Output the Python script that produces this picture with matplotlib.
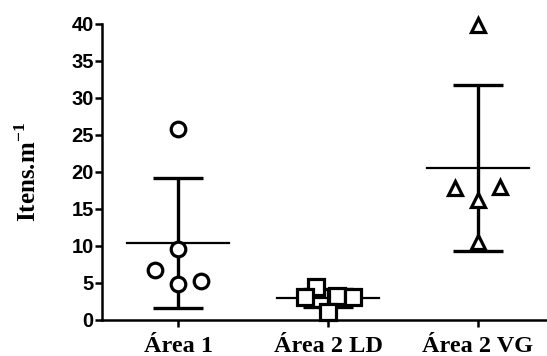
import numpy as np
import matplotlib
matplotlib.use("Agg")
import matplotlib.pyplot as plt

# valores (Itens.m-1)
categorias = ["Área 1", "Área 2 LD", "Área 2 VG"]
area1 = [25.8, 9.5, 6.7, 4.8, 5.2]
area2_ld = [4.4, 3.0, 3.2, 3.0, 1.0]
area2_vg = [39.8, 17.8, 17.9, 16.2, 10.5]
dados = [area1, area2_ld, area2_vg]

# deslocamento horizontal dos pontos (para nao sobrepor)
desloc = [
    [0.0, 0.0, -0.153, 0.0, 0.153],
    [-0.08, -0.153, 0.06, 0.167, 0.0],
    [0.0, -0.153, 0.147, 0.0, 0.0],
]
marcadores = ["o", "s", "^"]
tamanhos = [10.5, 11, 9.5]

plt.rcParams["mathtext.fontset"] = "custom"
plt.rcParams["mathtext.rm"] = "Liberation Serif:bold"
plt.rcParams["mathtext.bf"] = "Liberation Serif:bold"

fig = plt.figure(figsize=(5.47, 3.56), dpi=100)
ax = fig.add_axes([0.1865, 0.1025, 0.8135, 0.8305])

for i, valores in enumerate(dados):
    v = np.array(valores)
    media = v.mean()
    dp = v.std(ddof=1)
    ax.plot([i - 0.34, i + 0.34], [media, media], color="black", lw=1.6, zorder=2)
    ax.errorbar(i, media, yerr=dp, fmt="none", ecolor="black", elinewidth=2.4,
                capsize=18, capthick=2.4, zorder=2)
    xs = i + np.array(desloc[i])
    ax.plot(xs, v, linestyle="none", marker=marcadores[i], markersize=tamanhos[i],
            markerfacecolor="white", markeredgecolor="black", markeredgewidth=2.3,
            zorder=3, clip_on=False)

ax.set_xlim(-0.507, 2.46)
ax.set_ylim(0, 40)
ax.set_yticks(np.arange(0, 41, 5))
ax.set_xticks(range(len(categorias)))
ax.set_xticklabels(categorias, fontfamily="Liberation Serif", fontweight="bold", fontsize=17.5)
for lab in ax.get_yticklabels():
    lab.set_fontfamily("Liberation Sans")
    lab.set_fontweight("bold")
    lab.set_fontsize(14.5)

ax.spines["top"].set_visible(False)
ax.spines["right"].set_visible(False)
ax.spines["left"].set_linewidth(1.8)
ax.spines["bottom"].set_linewidth(1.8)
ax.tick_params(axis="both", width=1.8, length=5, color="black")
ax.tick_params(axis="y", pad=1)
ax.tick_params(axis="x", pad=7)

ax.set_ylabel("Itens.m$^{\\mathrm{-1}}$", fontfamily="Liberation Serif", fontweight="bold",
              fontsize=18, labelpad=22)

fig.savefig("out.png", dpi=100)
